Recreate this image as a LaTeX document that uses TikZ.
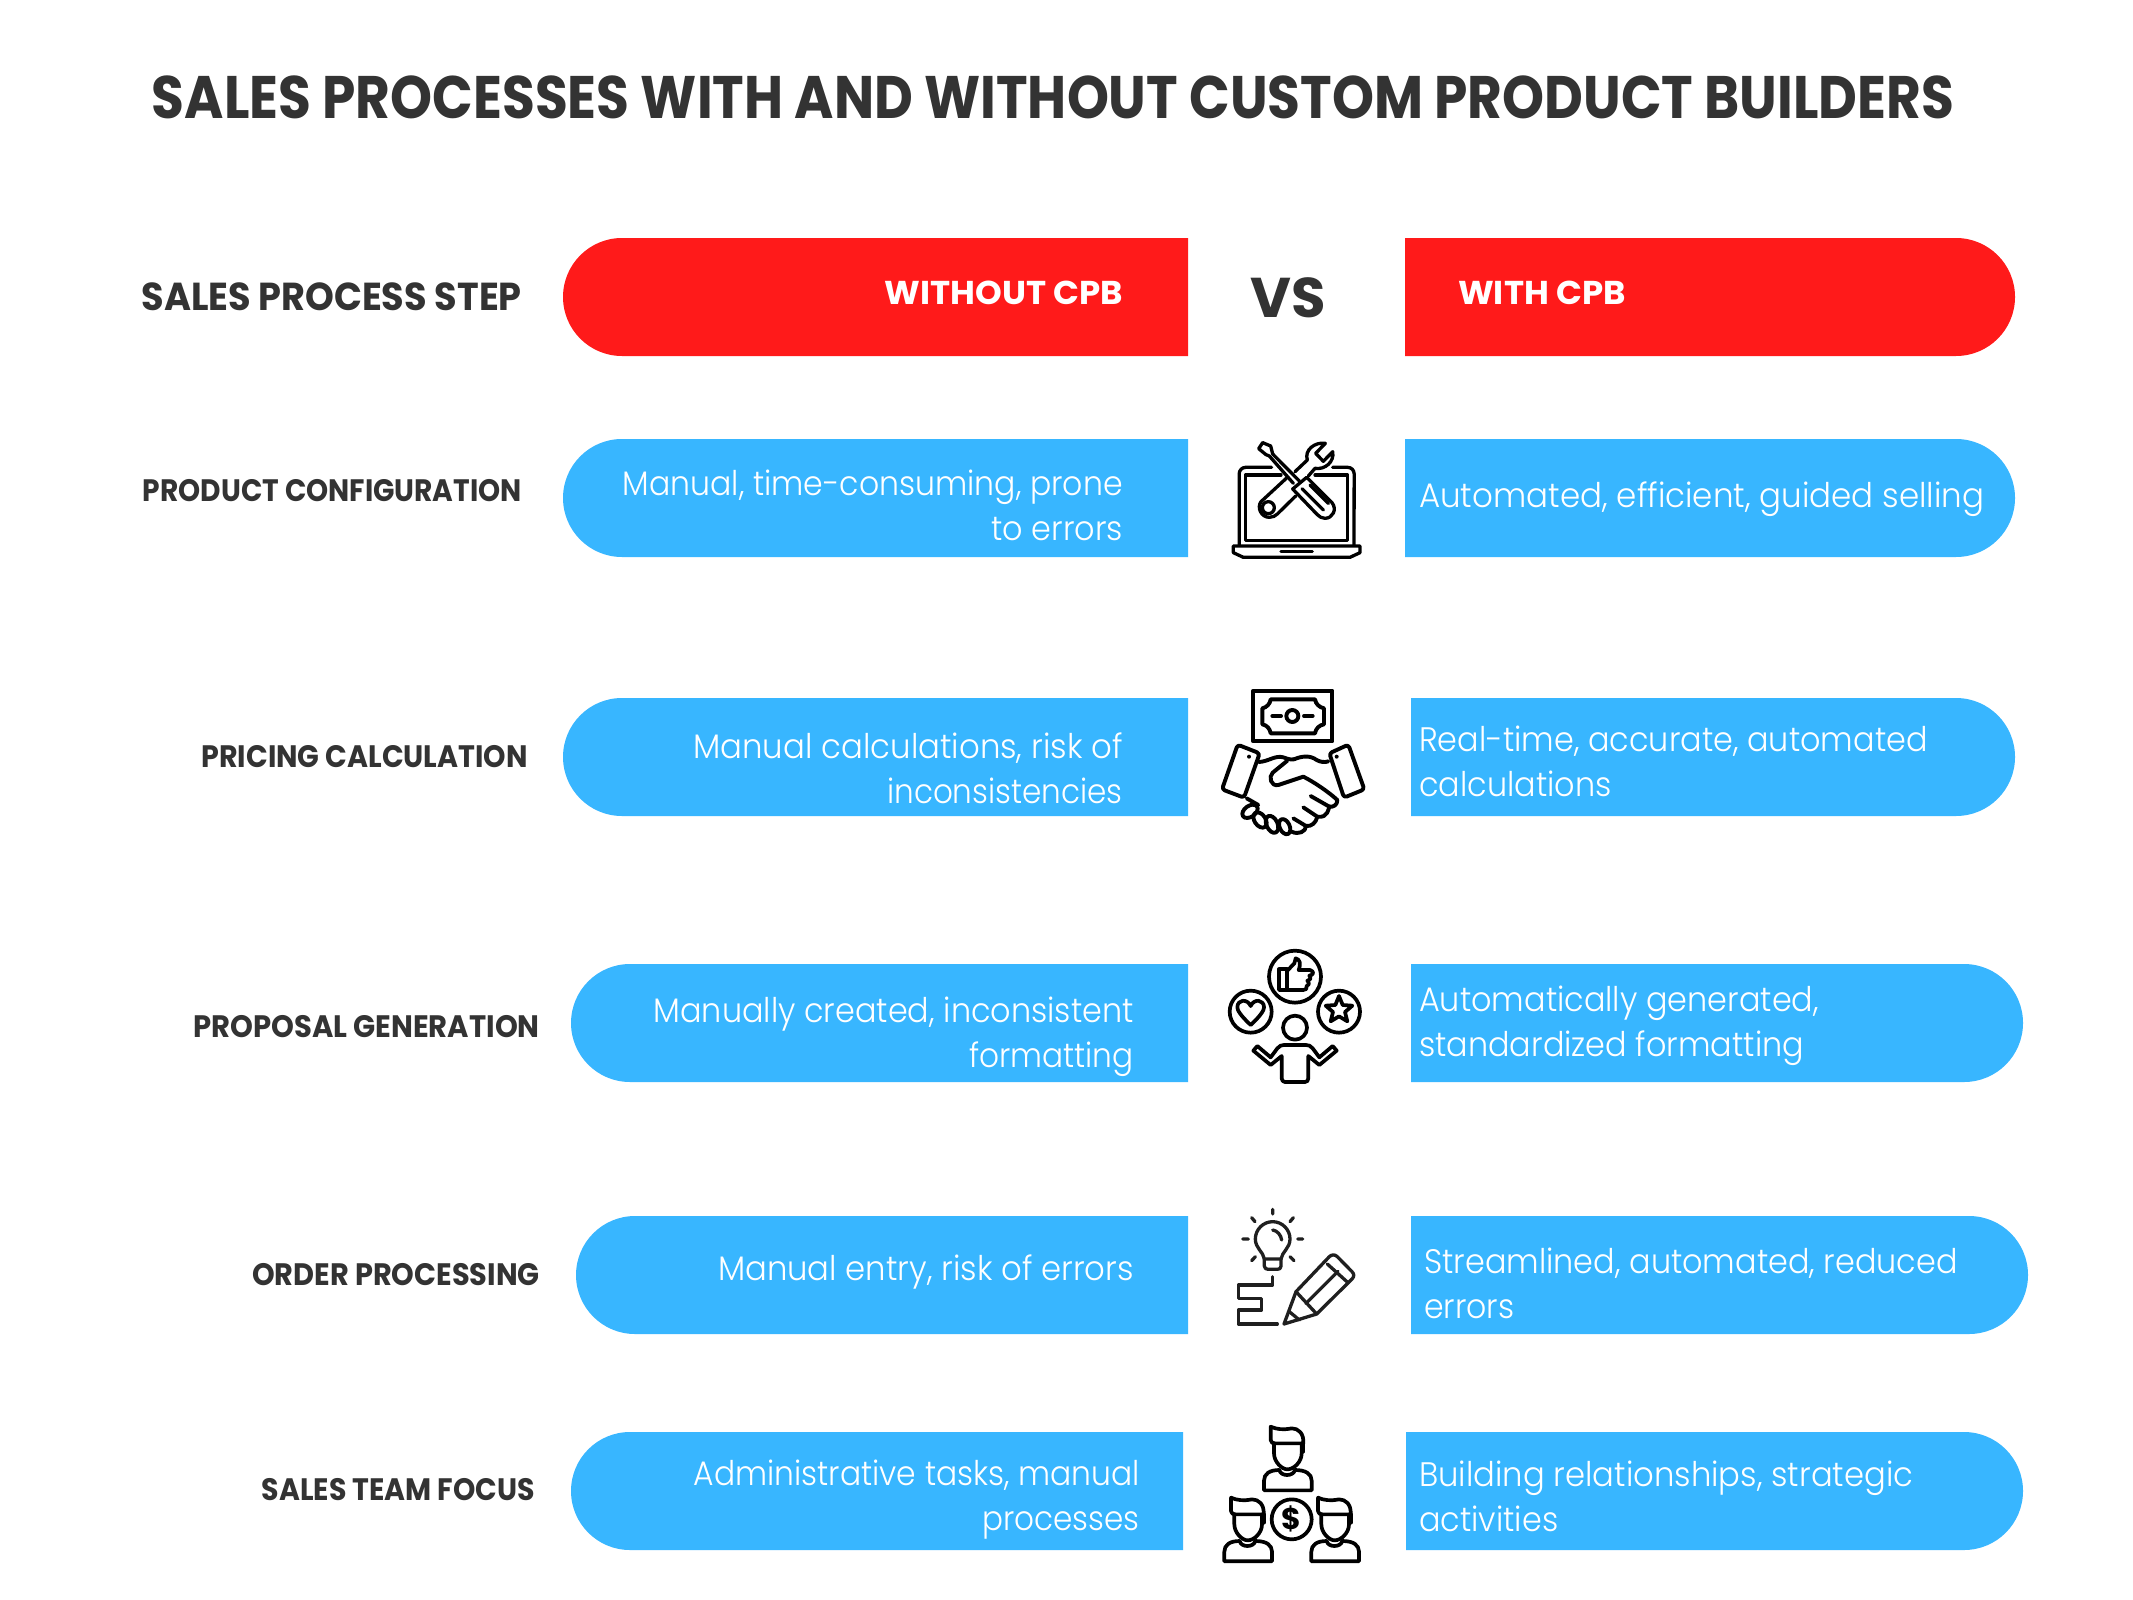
\documentclass[tikz,border=0pt]{standalone}
\usepackage{fontspec}
\usepackage{graphicx}
\setmainfont{Poppins}
\newfontfamily\titlef{Poppins}[UprightFont=*-Bold,FakeStretch=0.89]
\newfontfamily\bigf{Poppins}[UprightFont=*-Bold,FakeStretch=0.94]
\newfontfamily\rowf{Poppins}[UprightFont=*-Bold,FakeStretch=0.93]
\newfontfamily\headf{Poppins}[UprightFont=*-Bold,FakeStretch=1.03]
\newfontfamily\vsf{Poppins}[UprightFont=*-Bold]
\newfontfamily\lightf{Poppins}[UprightFont=*-Light,FakeStretch=0.937]
\newcommand{\sx}[2]{\scalebox{#1}[1]{#2}}
\definecolor{cred}{HTML}{FF1A1A}
\definecolor{cblue}{HTML}{38B6FF}
\definecolor{cdark}{HTML}{333333}
\tikzset{
 title/.style={text=cdark,inner sep=0pt,font=\titlef\fontsize{60}{66}\selectfont},
 rowhead/.style={text=cdark,inner sep=0pt,anchor=east,font=\rowf\fontsize{31}{40}\selectfont},
 rowheadbig/.style={text=cdark,inner sep=0pt,anchor=east,font=\bigf\fontsize{39}{48}\selectfont},
 head/.style={text=white,inner sep=0pt,font=\headf\fontsize{33}{40}\selectfont},
 lefttext/.style={text=white,inner sep=0pt,anchor=east,align=right,font=\lightf\fontsize{34}{45}\selectfont},
 righttext/.style={text=white,inner sep=0pt,anchor=west,align=left,font=\lightf\fontsize{34}{45}\selectfont},
 icon/.style={draw=black,line width=3.3pt,line cap=round,line join=round},
 iconbox/.style={x=0.33333pt,y=-0.33333pt},
}
\newcommand{\pillL}[5]{\fill[#5] (#2,#3) -- ({#1+59},#3) arc[start angle=90,end angle=270,radius=59pt] -- (#2,#4) -- cycle;}
\newcommand{\pillR}[5]{\fill[#5] (#1,#3) -- ({#2-59},#3) arc[start angle=90,end angle=-90,radius=59pt] -- (#1,#4) -- cycle;}
\newcommand{\personicon}[2]{%
 \begin{scope}[shift={(#1,#2)}]
 \draw[icon] (212,50) -- (212,90) .. controls (213,98) and (218,100) .. (225,100) -- (300,100) -- (310,100) .. controls (312,70) and (295,55) .. (275,55) .. controls (250,60) and (230,58) .. (212,50) -- cycle;
 \draw[icon] (222,100) -- (222,130) .. controls (222,155) and (245,178) .. (262,178) .. controls (282,178) and (305,155) .. (305,130) -- (305,100);
 \draw[icon] (310,100) -- (310,125);
 \draw[icon] (192,241) -- (192,212) .. controls (192,192) and (208,180) .. (238,180) .. controls (242,200) and (280,200) .. (285,180) .. controls (318,180) and (335,192) .. (335,212) -- (335,241) -- cycle;
 \end{scope}}
\begin{document}
\begin{tikzpicture}[x=1pt,y=-1pt]
\useasboundingbox (0,0) rectangle (2133,1600);
\fill[white] (0,0) rectangle (2133,1600);
\node[title] (t) at (1053,97) {SALES PROCESSES WITH AND WITHOUT CUSTOM PRODUCT BUILDERS};

\pillL{563}{1188}{238}{356}{cred}
\pillR{1405}{2015}{238}{356}{cred}
\pillL{563}{1188}{439}{557}{cblue}
\pillR{1405}{2015}{439}{557}{cblue}
\pillL{563}{1188}{698}{816}{cblue}
\pillR{1411}{2015}{698}{816}{cblue}
\pillL{571}{1188}{964}{1082}{cblue}
\pillR{1411}{2023}{964}{1082}{cblue}
\pillL{576}{1188}{1216}{1334}{cblue}
\pillR{1411}{2028}{1216}{1334}{cblue}
\pillL{571}{1183}{1432}{1550}{cblue}
\pillR{1406}{2023}{1432}{1550}{cblue}

\node[rowheadbig] (h0) at (522,297) {SALES PROCESS STEP};
\node[rowhead] (h1) at (522,491) {\sx{0.975}{PRODUCT CONFIGURATION}};
\node[rowhead] (h2) at (528,757) {\sx{0.99}{PRICING CALCULATION}};
\node[rowhead] (h3) at (540,1027) {\sx{1.008}{PROPOSAL GENERATION}};
\node[rowhead] (h4) at (540,1275) {ORDER PROCESSING};
\node[rowhead] (h5) at (535,1490) {\sx{0.985}{SALES TEAM FOCUS}};

\node[head,anchor=east] (wo) at (1123,293) {WITHOUT CPB};
\node[head,anchor=west] (wi) at (1458,293) {WITH CPB};
\node[text=cdark,inner sep=0pt,font=\vsf\fontsize{56}{60}\selectfont] (vs) at (1288,298) {VS};

\node[lefttext] (l1) at (1123,505) {\sx{0.99}{Manual, time-consuming, prone}\\to errors};
\node[righttext] (r1) at (1419,499) {\sx{1.02}{Automated, efficient, guided selling}};
\node[lefttext] (l2) at (1123,768) {\sx{1.016}{Manual calculations, risk of}\\\sx{0.975}{inconsistencies}};
\node[righttext] (r2) at (1419,761) {Real-time, accurate, automated\\calculations};
\node[lefttext] (l3) at (1134,1037) {Manually created, inconsistent\\\sx{0.98}{formatting}};
\node[righttext] (r3) at (1419,1026) {Automatically generated,\\standardized formatting};
\node[lefttext] (l4) at (1134,1272) {\sx{1.013}{Manual entry, risk of errors}};
\node[righttext] (r4) at (1424,1283) {Streamlined, automated, reduced\\\sx{0.99}{errors}};
\node[lefttext] (l5) at (1140,1500) {\sx{0.985}{Administrative tasks, manual}\\\sx{0.975}{processes}};
\node[righttext] (r5) at (1419,1496) {\sx{1.012}{Building relationships, strategic}\\activities};

% icon 1: laptop and tools
\begin{scope}[shift={(1200,420)},iconbox]
 \draw[icon] (215,142) -- (137,142) arc[start angle=90,end angle=180,radius=6.5pt] -- (118,375);
 \draw[icon] (398,142) -- (443,142) arc[start angle=90,end angle=0,radius=6.5pt] -- (462,375);
 \draw[icon] (243,165) -- (136,165) -- (136,362) -- (443,362) -- (443,165) -- (345,165);
 \draw[icon] (100,378) -- (480,378) -- (480,398) -- (450,412) -- (130,412) -- (100,398) -- cycle;
 \draw[icon] (243,395) -- (337,395);
 % screwdriver
 \draw[icon] (188,68) -- (212,78) -- (218,102) -- (298,183);
 \draw[icon] (188,68) -- (176,86) -- (198,104) -- (208,108) -- (280,190);
 \draw[icon] (278,207) -- (320,172) -- (396,248) .. controls (412,268) and (398,295) .. (375,295) .. controls (365,295) and (358,290) .. (352,284) -- (278,207) -- cycle;
 \draw[icon] (306,206) -- (370,270);
 \draw[icon] (330,195) -- (385,250);
 % wrench
 \draw[icon] (262,172) -- (183,245) .. controls (170,262) and (183,292) .. (208,292) .. controls (218,292) and (226,288) .. (232,282) -- (287,228);
 \draw[icon] (205,263) circle[radius=6pt];
 \draw[icon] (285,155) -- (322,120) .. controls (312,90) and (345,65) .. (376,70) -- (347,100) -- (370,124) -- (398,95) .. controls (404,125) and (375,150) .. (345,145) -- (325,168);
\end{scope}

% icon 2: banknote and handshake
\begin{scope}[shift={(1200,670)},iconbox,icon/.append style={line width=3.9pt}]
 \draw[icon] (160,62) rectangle (397,214);
 \draw[icon] (212,88) -- (345,88) .. controls (347,102) and (358,112) .. (372,115) -- (372,163) .. controls (358,165) and (347,176) .. (345,190) -- (212,190) .. controls (210,176) and (200,165) .. (187,163) -- (187,115) .. controls (200,112) and (210,102) .. (212,88) -- cycle;
 \draw[icon] (277,138) circle[radius=6pt];
 \draw[icon] (217,138) -- (243,138);
 \draw[icon] (312,138) -- (338,138);
 \draw[icon,rounded corners=3pt] (113,224) -- (179,250) -- (132,383) -- (66,358) -- cycle;
 \draw[icon,rounded corners=3pt] (445,224) -- (388,250) -- (432,383) -- (493,358) -- cycle;
 \fill (147,260) circle[radius=2pt];
 \fill (410,260) circle[radius=2pt];
 \draw[icon] (176,276) .. controls (205,275) and (225,255) .. (250,262) .. controls (262,266) and (270,270) .. (282,268);
 \draw[icon] (282,268) .. controls (305,258) and (330,255) .. (350,270) .. controls (360,276) and (375,278) .. (385,274);
 \draw[icon] (262,272) -- (218,308) .. controls (205,320) and (212,350) .. (235,345) -- (310,320) .. controls (340,335) and (385,365) .. (412,390) .. controls (412,405) and (400,412) .. (388,410);
 \draw[icon] (332,378) -- (388,410);
 \draw[icon] (310,412) -- (352,440) .. controls (385,445) and (385,415) .. (388,410);
 \draw[icon] (280,445) -- (318,468) .. controls (335,470) and (348,458) .. (352,440);
 \draw[icon] (318,468) .. controls (318,485) and (295,495) .. (275,485);
 \draw[icon] (140,385) -- (175,405);
 \draw[icon,rotate around={35:(150,424)}] (150,424) ellipse[x radius=8.5pt,y radius=5.5pt];
 \draw[icon,rotate around={125:(180,450)}] (180,450) ellipse[x radius=8.5pt,y radius=5.5pt];
 \draw[icon,rotate around={115:(216,463)}] (216,463) ellipse[x radius=9pt,y radius=5.5pt];
 \draw[icon,rotate around={115:(254,470)}] (254,470) ellipse[x radius=8pt,y radius=5pt];
\end{scope}

% icon 3: juggling person
\begin{scope}[shift={(1200,930)},iconbox,icon/.append style={line width=3.7pt}]
 \draw[icon] (285,140) circle[radius=26pt];
 \draw[icon] (152,245) circle[radius=21pt];
 \draw[icon] (417,245) circle[radius=21pt];
 \draw[icon] (285,293) circle[radius=12pt];
 \draw[icon] (160,362) -- (172,348) -- (212,382) -- (232,355) .. controls (238,347) and (245,345) .. (252,345) -- (318,345) .. controls (325,345) and (332,347) .. (338,355) -- (358,382) -- (398,348) -- (410,362) -- (358,405) -- (325,378) -- (325,445) .. controls (325,452) and (320,456) .. (315,456) -- (255,456) .. controls (250,456) and (245,452) .. (245,445) -- (245,378) -- (212,405) -- cycle;
 \draw[icon] (152,285) .. controls (120,255) and (112,240) .. (112,232) .. controls (112,208) and (142,205) .. (152,228) .. controls (162,205) and (192,208) .. (192,232) .. controls (192,240) and (184,255) .. (152,285) -- cycle;
 \draw[icon] (417,198) -- (428,225) -- (457,227) -- (435,246) -- (442,274) -- (417,259) -- (392,274) -- (399,246) -- (377,227) -- (406,225) -- cycle;
 \draw[icon] (237,118) rectangle (262,180);
 \draw[icon] (262,122) -- (283,100) -- (287,85) .. controls (300,88) and (303,100) .. (296,120) -- (330,120) .. controls (345,125) and (340,135) .. (328,137) .. controls (335,145) and (330,152) .. (322,152) .. controls (330,160) and (326,168) .. (320,168) .. controls (322,176) and (318,180) .. (310,180) -- (262,180);
\end{scope}

% icon 4: bulb and pencil
\begin{scope}[shift={(1200,1190)},iconbox]
 \draw[icon,draw=black!88] (218,58) -- (218,72) (155,83) -- (165,95) (280,83) -- (270,95) (128,147) -- (145,147) (293,147) -- (308,147) (155,212) -- (166,200) (282,212) -- (270,200);
 \draw[icon,draw=black!88] (193,207) .. controls (190,185) and (166,175) .. (166,147) .. controls (166,118) and (190,95) .. (218,95) .. controls (246,95) and (270,118) .. (270,147) .. controls (270,175) and (246,185) .. (243,207) -- cycle;
 \draw[icon,draw=black!88] (193,207) -- (193,228) .. controls (193,235) and (198,238) .. (205,238) -- (232,238) .. controls (239,238) and (243,235) .. (243,228) -- (243,207);
 \draw[icon,draw=black!88] (218,120) .. controls (232,122) and (243,135) .. (245,150);
 \draw[icon,draw=black!88] (218,260) -- (218,285) -- (115,285) -- (115,325) -- (185,325) -- (185,360) -- (115,360) -- (115,402) -- (232,402);
 \draw[icon,draw=black!88] (252,402) -- (288,305) -- (388,200) .. controls (395,193) and (405,193) .. (412,200) -- (456,245) .. controls (463,252) and (463,260) .. (456,267) -- (350,372) -- cycle;
 \draw[icon,draw=black!88] (288,305) -- (350,372);
 \draw[icon,draw=black!88] (382,222) -- (444,278);
 \draw[icon,draw=black!88] (318,340) -- (414,244);
 \draw[icon,draw=black!88] (268,365) -- (298,390);
\end{scope}

% icon 5: team
\begin{scope}[shift={(1200,1410)},iconbox,icon/.append style={line width=3.7pt}]
 \personicon{0}{0}
 \personicon{-119}{213}
 \personicon{142}{213}
 \draw[icon] (275,328) circle[radius=20pt];
 \node[inner sep=0pt,text=black,font=\vsf\fontsize{30}{30}\selectfont] (dollar) at (275,328) {\$};
\end{scope}
\end{tikzpicture}
\end{document}
